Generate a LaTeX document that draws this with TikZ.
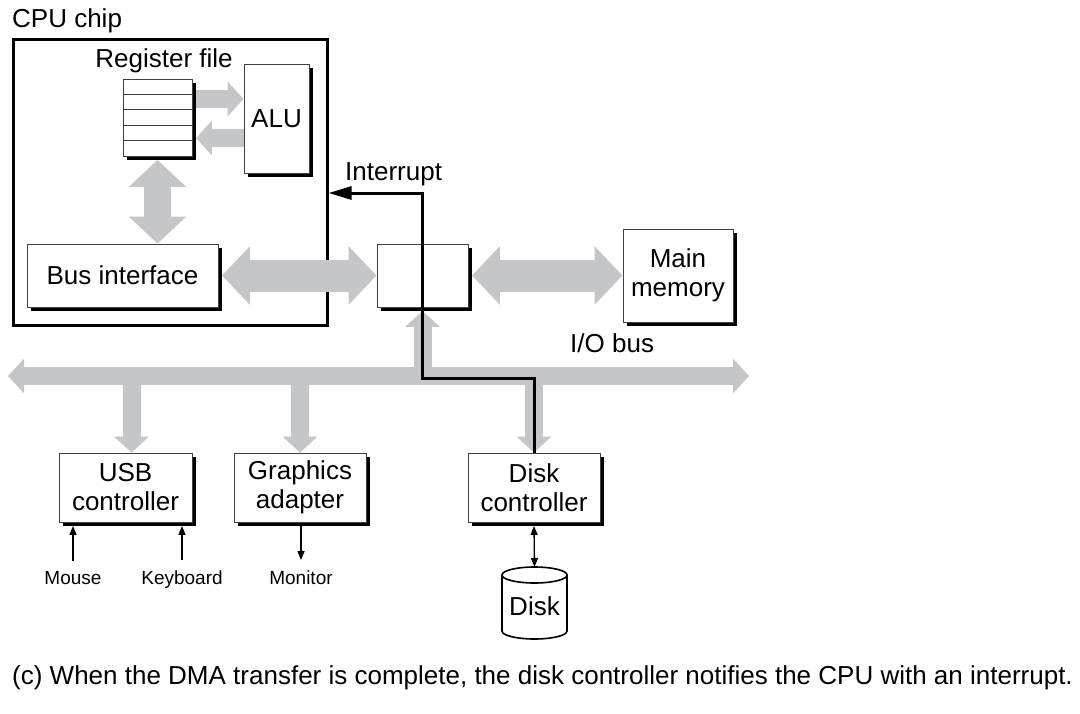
\documentclass[tikz,border=0pt]{standalone}
\usepackage{fontspec}
\setmainfont{Liberation Sans}
\usetikzlibrary{arrows.meta}
\usetikzlibrary{positioning}
\usetikzlibrary{calc}
\usetikzlibrary{shadows}
\definecolor{busgray}{RGB}{197,198,200}
\tikzset{unitbox/.style = {draw=black!75, fill=white, line width=0.9pt, inner sep=0pt,
                           align=center, font=\fontsize{26}{29}\selectfont,
                           general shadow={shadow xshift=3.5pt, shadow yshift=-3.5pt, fill=black}},
         txt/.style = {inner sep=0pt, font=\fontsize{26}{29}\selectfont},
         devtxt/.style = {inner sep=0pt, font=\fontsize{19}{22}\selectfont},
         bus/.style = {draw=busgray, line width=18pt, -{Triangle[length=16pt, width=34pt]}},
         iobus/.style = {draw=busgray, line width=18pt,
                         {Triangle[length=16pt, width=34pt]}-{Triangle[length=16pt, width=34pt]}},
         fat/.style = {draw=busgray, line width=32pt,
                       {Triangle[length=28pt, width=57pt]}-{Triangle[length=28pt, width=57pt]}},
         vfat/.style = {draw=busgray, line width=27pt,
                        {Triangle[length=27pt, width=56pt]}-{Triangle[length=27pt, width=56pt]}},
         irq/.style = {draw=black, line width=3pt, -{Triangle[length=23pt, width=13pt]}},
         wire/.style = {draw=black, line width=1.3pt, -{Triangle[length=9pt, width=7pt]}}}

\begin{document}
\begin{tikzpicture}[x=1pt, y=-1pt]
  \useasboundingbox (0,0) rectangle (1080,713);
  % CPU chip
  \node [txt, anchor=base west] (cpulabel) at (12,27) {CPU chip};
  \node [draw, line width=2.6pt, minimum width=314pt, minimum height=286pt,
         anchor=north west] (cpu) at (12,38) {};
  \node [unitbox, minimum width=69pt, minimum height=77pt] (regs) at (157.5,117.5) {};
  \foreach \k in {1,...,4}
    \draw [draw=black!75, line width=0.9pt] ($(regs.north west)!\k/5!(regs.south west)$)
      -- ($(regs.north east)!\k/5!(regs.south east)$);
  \node [txt, anchor=base] (regslabel) at (164,67) {Register file};
  \node [unitbox, minimum width=65pt, minimum height=109pt] (alu) at (276.5,118.5) {ALU};
  \node [unitbox, minimum width=191pt, minimum height=63pt] (busif) at (122.5,275.5) {Bus interface};
  \node [unitbox, minimum width=91pt, minimum height=63pt] (bridge) at (422.5,275.5) {};
  \node [unitbox, minimum width=110pt, minimum height=93pt] (mem) at (678,275.5) {Main\\memory};
  \node [txt, anchor=base west] (irqlabel) at (345,180) {Interrupt};
  \node [txt, anchor=base west] (buslabel) at (570,352) {I/O bus};

  % I/O devices
  \node [unitbox, minimum width=133pt, minimum height=69pt] (usb) at (125.5,487.5) {USB\\controller};
  \node [unitbox, minimum width=132pt, minimum height=69pt] (gfx) at (300,487.5) {Graphics\\adapter};
  \node [unitbox, minimum width=132pt, minimum height=69pt] (dctl) at (534,487.5) {Disk\\controller};
  % disk drum
  \draw [line width=1.6pt, fill=white] (502,575) -- (502,631)
    arc [start angle=180, end angle=360, x radius=32.5pt, y radius=8pt] -- (567,575)
    arc [start angle=0, end angle=180, x radius=32.5pt, y radius=8pt] -- cycle;
  \draw [line width=1.6pt] (502,575) arc [start angle=180, end angle=360, x radius=32.5pt, y radius=8pt];
  \coordinate (disktop) at (534.5,567);
  \node [txt] (disk) at (534.5,606) {Disk};
  \node [devtxt, anchor=base] (mouse) at (73,584) {Mouse};
  \node [devtxt, anchor=base] (kbd) at (182,584) {Keyboard};
  \node [devtxt, anchor=base] (monitor) at (301,584) {Monitor};
  \node [txt, anchor=base west] (caption) at (12,684)
    {(c) When the DMA transfer is complete, the disk controller notifies the CPU with an interrupt.};

  % gray buses
  \coordinate (r2a) at ([yshift=18.5pt]regs.east);
  \coordinate (a2r) at ([yshift=-20.5pt]regs.east);
  \draw [bus] ([xshift=3.5pt]r2a) -- (r2a -| alu.west);
  \draw [bus] (a2r -| alu.west) -- ([xshift=3.5pt]a2r);
  \draw [vfat] ([yshift=-3.5pt]regs.south) -- (regs.south |- busif.north);
  \draw [fat] ([xshift=3.5pt]busif.east) -- (bridge.west);
  \draw [fat] ([xshift=3.5pt]bridge.east) -- (mem.west |- bridge.east);
  \coordinate (busL) at (8,376);
  \coordinate (busR) at (749,376);
  \draw [iobus] (busL) -- (busR);
  \draw [bus] (bridge.south |- busL) -- ([yshift=-3.5pt]bridge.south);
  \coordinate (usbin) at ([xshift=6pt]usb.north);
  \draw [bus] (usbin |- busL) -- (usbin);
  \draw [bus] (gfx.north |- busL) -- (gfx.north);
  \draw [bus] (dctl.north |- busL) -- (dctl.north);

  % thin wires
  \coordinate (usbfoot) at ([yshift=-3.5pt]usb.south);
  \coordinate (gfxfoot) at ([yshift=-3.5pt]gfx.south);
  \coordinate (dctlfoot) at ([yshift=-3.5pt]dctl.south);
  \draw [wire] ([yshift=10pt]mouse.north) -- (mouse.north |- usbfoot);
  \draw [wire] ([yshift=10pt]kbd.north) -- (kbd.north |- usbfoot);
  \draw [wire] (monitor.north |- gfxfoot) -- ([yshift=10pt]monitor.north);
  \draw [wire, {Triangle[length=9pt, width=7pt]}-{Triangle[length=9pt, width=7pt]}]
    (dctlfoot) -- (disktop);

  % interrupt
  \draw [irq] (dctl.north) |- (bridge.center |- 0,378) |- (cpu.east |- 0,193);
\end{tikzpicture}
\end{document}
